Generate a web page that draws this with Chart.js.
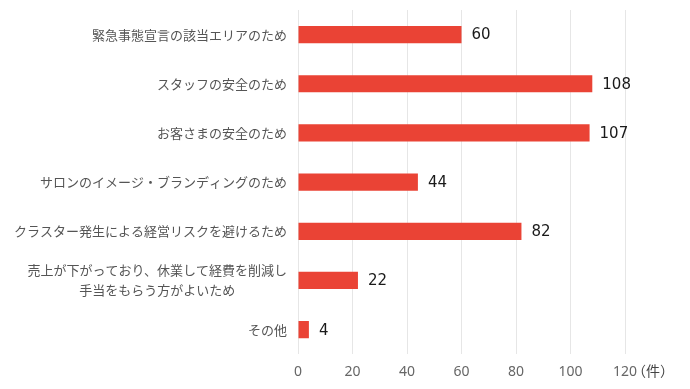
<!DOCTYPE html>
<html>
<head>
<meta charset="utf-8">
<script src="https://cdn.jsdelivr.net/npm/chart.js@4"></script>
<style>
  html, body { margin: 0; padding: 0; background: #fff; }
  #wrap { width: 690px; height: 389px; }
</style>
</head>
<body>
<div id="wrap"><canvas id="plotCanvas"></canvas></div>
<script>
const categories = [
    '緊急事態宣言の該当エリアのため',
    'スタッフの安全のため',
    'お客さまの安全のため',
    'サロンのイメージ・ブランディングのため',
    'クラスター発生による経営リスクを避けるため',
    ['売上が下がっており、休業して経費を削減し', '手当をもらう方がよいため'],
    'その他'
];
const counts = [60, 108, 107, 44, 82, 22, 4];
const unitLabel = '（件）';

const jpFont = '"Noto Sans CJK JP", "Noto Sans", sans-serif';

// category labels drawn by hand so the two-line one can be centred like the original
const labelPlugin = {
    id: 'labels',
    afterDraw(chart) {
        const ctx = chart.ctx;
        const y = chart.scales.y;
        const x = chart.scales.x;
        const right = chart.chartArea.left - 11;
        ctx.save();
        ctx.textBaseline = 'middle';
        ctx.font = '13px ' + jpFont;
        ctx.fillStyle = '#555';
        categories.forEach((lab, i) => {
            const cy = y.getPixelForValue(i);
            if (Array.isArray(lab)) {
                const widths = lab.map(t => ctx.measureText(t).width);
                const w = Math.max(...widths);
                const cx = right - w / 2;
                ctx.textAlign = 'center';
                lab.forEach((t, j) => {
                    ctx.fillText(t, cx, cy + (j - (lab.length - 1) / 2) * 20);
                });
            } else {
                ctx.textAlign = 'right';
                ctx.fillText(lab, right, cy);
            }
        });

        // value labels
        ctx.font = '15px "DejaVu Sans", sans-serif';
        ctx.fillStyle = '#1a1a1a';
        ctx.textAlign = 'left';
        counts.forEach((v, i) => {
            ctx.fillText(String(v), x.getPixelForValue(v) + 10, y.getPixelForValue(i) + 1);
        });

        // unit after the last tick
        ctx.font = '14px ' + jpFont;
        ctx.fillStyle = '#444';
        ctx.fillText(unitLabel, chart.chartArea.right + 7, chart.chartArea.bottom + 16);
        ctx.restore();
    }
};

const chart = new Chart(document.getElementById('plotCanvas'), {
    type: 'bar',
    data: {
        labels: categories,
        datasets: [{
            data: counts,
            backgroundColor: '#ea4335',
            barPercentage: 0.35,
            categoryPercentage: 1.0
        }]
    },
    options: {
        indexAxis: 'y',
        responsive: true,
        maintainAspectRatio: false,
        animation: false,
        layout: { padding: { top: 10, right: 65, bottom: 0, left: 0 } },
        plugins: {
            legend: { display: false },
            tooltip: { enabled: false }
        },
        scales: {
            x: {
                min: 0,
                max: 120,
                ticks: {
                    stepSize: 20,
                    color: '#666',
                    padding: 9,
                    font: { family: '"Noto Sans", sans-serif', size: 14 }
                },
                grid: { color: '#e6e6e6', drawTicks: false },
                border: { display: false }
            },
            y: {
                ticks: { display: false },
                grid: { display: false },
                border: { display: false },
                afterFit(scale) { scale.width = 298; }
            }
        }
    },
    plugins: [labelPlugin]
});
</script>
</body>
</html>
